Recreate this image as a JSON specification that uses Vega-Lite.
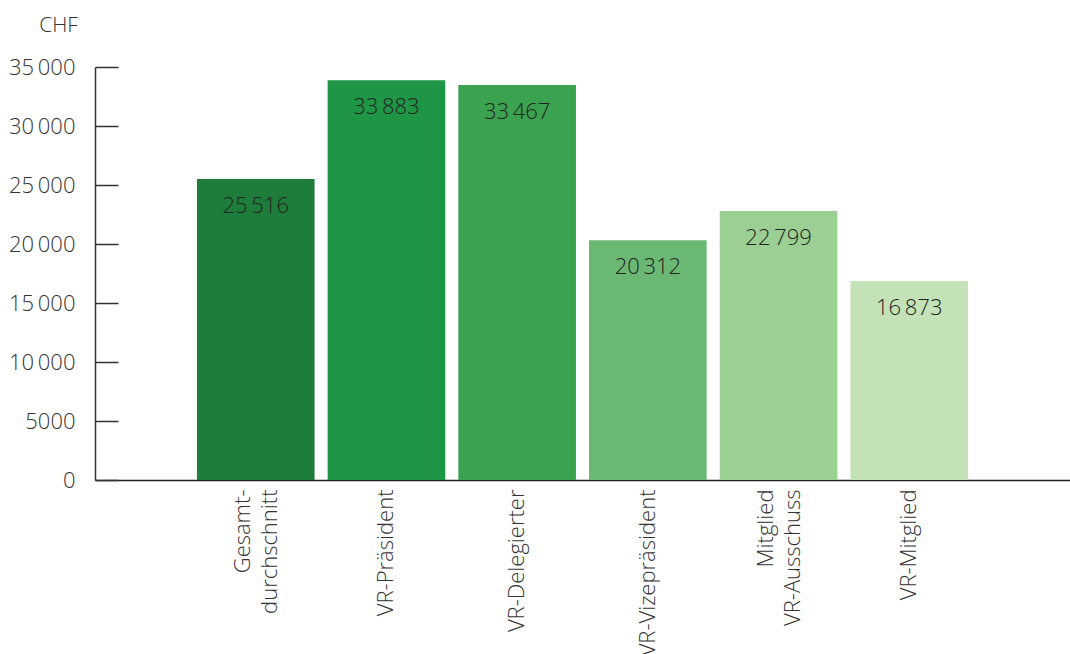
{
  "$schema": "https://vega.github.io/schema/vega-lite/v6.json",
  "width": 975,
  "height": 413,
  "autosize": {"type": "none"},
  "padding": {"left": 95, "top": 67, "right": 0, "bottom": 174},
  "background": "white",
  "config": {
    "view": {"stroke": null},
    "font": "Open Sans",
    "locale": {"number": {"decimal": ".", "thousands": "\u2009", "grouping": [3], "currency": ["", ""]}}
  },
  "data": {
    "values": [
      {"kategorie": "Gesamtdurchschnitt", "chf": 25516},
      {"kategorie": "VR-Präsident", "chf": 33883},
      {"kategorie": "VR-Delegierter", "chf": 33467},
      {"kategorie": "VR-Vizepräsident", "chf": 20312},
      {"kategorie": "Mitglied VR-Ausschuss", "chf": 22799},
      {"kategorie": "VR-Mitglied", "chf": 16873}
    ]
  },
  "encoding": {
    "x": {
      "field": "kategorie",
      "type": "nominal",
      "sort": null,
      "scale": {"paddingInner": 0.1, "paddingOuter": 0.78},
      "axis": {
        "title": null,
        "ticks": false,
        "domainColor": "#222222",
        "domainWidth": 1.5,
        "labelAngle": -90,
        "labelAlign": "right",
        "labelBaseline": "middle",
        "labelPadding": 9,
        "labelFontSize": 22,
        "labelFontWeight": 300,
        "labelColor": "#333333",
        "labelLineHeight": 27,
        "labelOffset": {
          "condition": {"test": "datum.value == 'Gesamtdurchschnitt' || datum.value == 'Mitglied VR-Ausschuss'", "value": -13},
          "value": 0
        },
        "labelExpr": "datum.value == 'Gesamtdurchschnitt' ? ['Gesamt-', 'durchschnitt'] : datum.value == 'Mitglied VR-Ausschuss' ? ['Mitglied', 'VR-Ausschuss'] : datum.value"
      }
    },
    "y": {
      "field": "chf",
      "type": "quantitative",
      "scale": {"domain": [0, 35000], "nice": false},
      "axis": {
        "title": "CHF",
        "titleAngle": 0,
        "titleX": -37,
        "titleY": -42,
        "titleAlign": "center",
        "titleBaseline": "middle",
        "titleFontSize": 21,
        "titleFontWeight": 300,
        "titleColor": "#333333",
        "values": [0, 5000, 10000, 15000, 20000, 25000, 30000, 35000],
        "grid": false,
        "domainColor": "#333333",
        "domainWidth": 1.5,
        "tickColor": "#333333",
        "tickWidth": 1.5,
        "tickSize": -23,
        "labelPadding": 43,
        "labelFontSize": 22,
        "labelFontWeight": 300,
        "labelColor": "#333333",
        "labelExpr": "datum.value < 10000 ? format(datum.value, 'd') : format(datum.value, ',')"
      }
    }
  },
  "layer": [
    {
      "mark": {"type": "bar"},
      "encoding": {
        "color": {
          "field": "kategorie",
          "type": "nominal",
          "sort": null,
          "legend": null,
          "scale": {
            "domain": ["Gesamtdurchschnitt", "VR-Präsident", "VR-Delegierter", "VR-Vizepräsident", "Mitglied VR-Ausschuss", "VR-Mitglied"],
            "range": ["#1f7d3c", "#1e9646", "#3ba24f", "#6bb874", "#9bcf93", "#c3e2b7"]
          }
        }
      }
    },
    {
      "mark": {"type": "text", "baseline": "alphabetic", "align": "center", "dy": 34, "fontSize": 22, "fontWeight": 300, "color": "#222222"},
      "encoding": {
        "text": {"field": "chf", "type": "quantitative", "format": ","}
      }
    }
  ]
}
